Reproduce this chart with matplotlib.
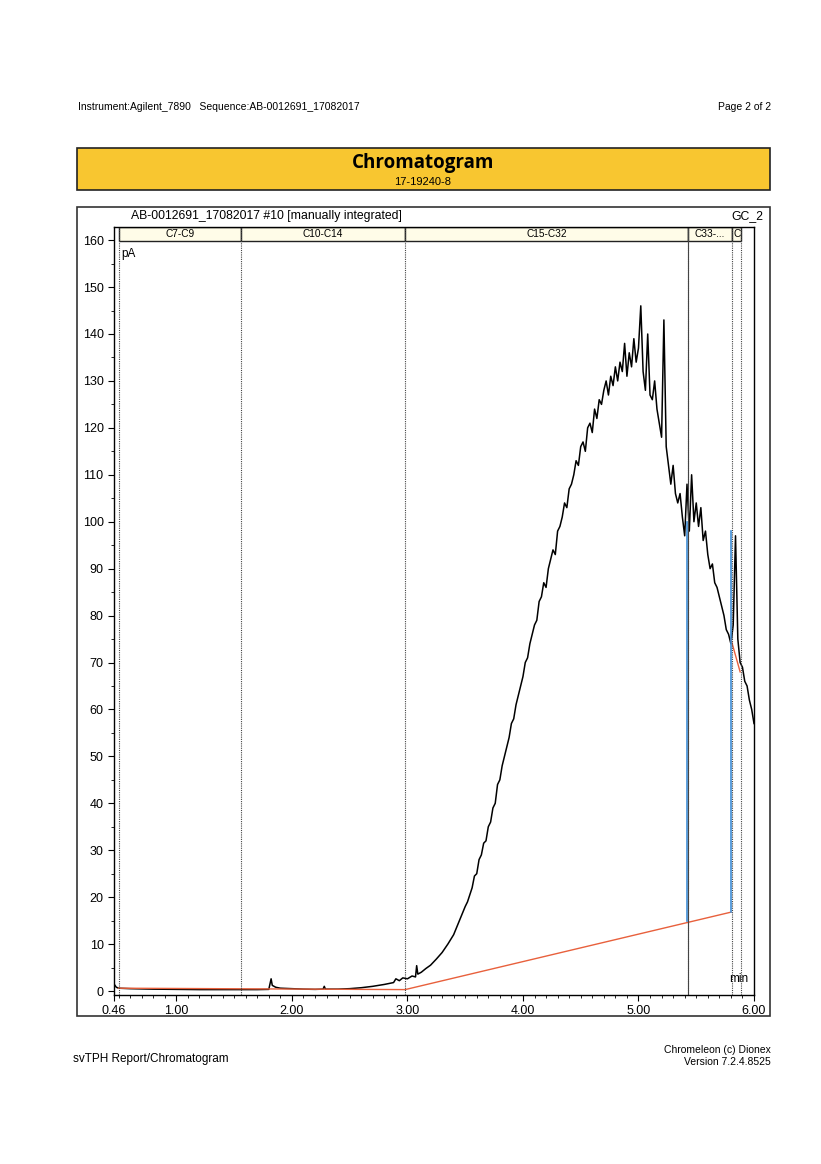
import numpy as np
import matplotlib
matplotlib.use("Agg")
import matplotlib.pyplot as plt
from matplotlib.patches import Rectangle
from matplotlib.ticker import MultipleLocator, FixedLocator

# retention time (min) and signal (pA)
RT_EARLY = [0.46, 0.48, 0.5, 0.6, 0.8, 1.0, 1.2, 1.4, 1.56, 1.7, 1.8, 1.82, 1.83,
            1.86, 1.9, 2.0, 2.1, 2.2, 2.27, 2.28, 2.29, 2.4, 2.5, 2.6, 2.7, 2.8,
            2.88, 2.9, 2.93, 2.96, 3.0, 3.04, 3.07, 3.08, 3.09, 3.12, 3.16, 3.2,
            3.25, 3.3, 3.35, 3.4, 3.45, 3.5]
SIG_EARLY = [1.5, 0.8, 0.6, 0.5, 0.4, 0.35, 0.3, 0.3, 0.3, 0.3, 0.35, 2.6, 1.2,
             0.8, 0.6, 0.5, 0.4, 0.35, 0.4, 1.0, 0.4, 0.4, 0.5, 0.7, 1.0, 1.4,
             1.8, 2.6, 2.2, 2.8, 2.6, 3.2, 3.0, 5.4, 3.6, 4.0, 4.8, 5.5, 6.8,
             8.2, 10, 12, 15, 18]
SIG_MAIN = [19, 20.5, 22, 24.5, 25, 28, 29, 31.5, 32, 35, 36, 39, 40, 44, 45, 48,
            50, 52, 54, 57, 58, 61, 63, 65, 67, 70, 71, 74, 76, 78, 79, 83, 84,
            87, 86, 90, 92, 94, 93, 98, 99, 101, 104, 103, 107, 108, 110, 113,
            112, 116, 117, 115, 120, 121, 119, 124, 122, 126, 125, 128, 130, 127,
            131, 129, 133, 130, 134, 132, 138, 131, 136, 133, 139, 134, 137, 146,
            132, 128, 140, 127, 126, 130, 124, 121, 118, 143, 116, 112, 108, 112,
            106, 104, 106, 101, 97, 108, 98, 110, 100, 104, 99, 103, 96, 98, 93,
            90, 91, 87, 86, 84, 82, 80, 77, 76, 74, 78, 97, 75, 70, 69, 66, 65,
            62, 60, 57]
RT_MAIN = np.round(np.arange(3.52, 6.001, 0.02), 2)

# integration windows
BAND_EDGES = [0.50, 1.56, 2.98, 5.43, 5.81, 5.89]
BAND_LABELS = ["C7-C9", "C10-C14", "C15-C32", "C33-...", "C"]
BASE_T = [0.50, 2.98, 5.80]
BASE_Y = [0.6, 0.3, 16.8]
TAIL_T = [5.80, 5.88]
TAIL_Y = [75, 68]
BLUE_T = [5.42, 5.80]
BLUE_LO = [15, 16.8]
BLUE_HI = [100, 98]

W, H = 821, 1164
fig = plt.figure(figsize=(W / 100, H / 100), dpi=100)


def fx(px):
    return px / W


def fy(py):
    return 1 - py / H


fig.text(fx(78), fy(107), "Instrument:Agilent_7890   Sequence:AB-0012691_17082017",
         fontsize=7.5, va="center", family="Liberation Sans")
fig.text(fx(771), fy(107), "Page 2 of 2", fontsize=7.5, va="center", ha="right",
         family="Liberation Sans")

fig.patches.append(Rectangle((fx(77), fy(190)), fx(770) - fx(77), fy(148) - fy(190),
                             transform=fig.transFigure, facecolor="#F8C630",
                             edgecolor="#222222", lw=1.2))
fig.text(fx(423), fy(163), "Chromatogram", fontsize=13.5, weight="bold", ha="center",
         va="center", family="Open Sans")
fig.text(fx(423), fy(182), "17-19240-8", fontsize=8, ha="center", va="center",
         family="Liberation Sans")

fig.patches.append(Rectangle((fx(77), fy(1016)), fx(770) - fx(77), fy(207) - fy(1016),
                             transform=fig.transFigure, facecolor="none",
                             edgecolor="#333333", lw=1.2))
fig.text(fx(131), fy(216), "AB-0012691_17082017 #10 [manually integrated]", fontsize=8.8,
         va="center", family="Liberation Sans")
fig.text(fx(763), fy(216), "GC_2", fontsize=8.8, va="center", ha="right",
         family="Liberation Sans")

ax = fig.add_axes([fx(114), fy(995), fx(754) - fx(114), fy(227) - fy(995)])
ax.set_xlim(0.46, 6.0)
ax.set_ylim(-0.85, 162.8)

rt = list(RT_EARLY) + list(RT_MAIN)
sig = list(SIG_EARLY) + list(SIG_MAIN)
ax.plot(rt, sig, color="black", lw=1.1)
ax.plot(BASE_T, BASE_Y, color="#E8603C", lw=1.0)
ax.plot(TAIL_T, TAIL_Y, color="#E8603C", lw=1.0)
for t, lo, hi in zip(BLUE_T, BLUE_LO, BLUE_HI):
    ax.plot([t, t], [lo, hi], color="#3F8FD8", lw=1.2)

for e in BAND_EDGES:
    ax.axvline(e, color="#444444", lw=0.8, ls=(0, (1, 1)))
ax.axvline(5.43, color="#444444", lw=0.8)

# band header
for i, lab in enumerate(BAND_LABELS):
    x0, x1 = BAND_EDGES[i], BAND_EDGES[i + 1]
    ax.add_patch(Rectangle((x0, 159.8), x1 - x0, 3.0, facecolor="#FFFCE8",
                           edgecolor="#222222", lw=1.0))
    ax.text((x0 + x1) / 2, 161.3, lab, fontsize=7.3, ha="center", va="center",
            family="Liberation Sans")

ax.text(0.52, 157, "pA", fontsize=8.5, va="center", family="Liberation Sans")
ax.text(5.95, 2.5, "min", fontsize=8.5, ha="right", va="center", family="Liberation Sans")

ax.xaxis.set_major_locator(FixedLocator([0.46, 1, 2, 3, 4, 5, 6]))
ax.set_xticklabels(["0.46", "1.00", "2.00", "3.00", "4.00", "5.00", "6.00"])
ax.xaxis.set_minor_locator(MultipleLocator(0.1))
ax.yaxis.set_major_locator(MultipleLocator(10))
ax.yaxis.set_minor_locator(MultipleLocator(5))
ax.set_yticks(range(0, 161, 10))
ax.tick_params(labelsize=9, length=4, width=0.8)
ax.tick_params(which="minor", length=2)
for lbl in ax.get_xticklabels() + ax.get_yticklabels():
    lbl.set_family("Liberation Sans")
for s in ax.spines.values():
    s.set_linewidth(1.0)

fig.text(fx(73), fy(1059), "svTPH Report/Chromatogram", fontsize=8.5, va="center",
         family="Liberation Sans")
fig.text(fx(771), fy(1050), "Chromeleon (c) Dionex", fontsize=7.5, va="center",
         ha="right", family="Liberation Sans")
fig.text(fx(771), fy(1062), "Version 7.2.4.8525", fontsize=7.5, va="center",
         ha="right", family="Liberation Sans")

fig.savefig("out.png", dpi=100)
